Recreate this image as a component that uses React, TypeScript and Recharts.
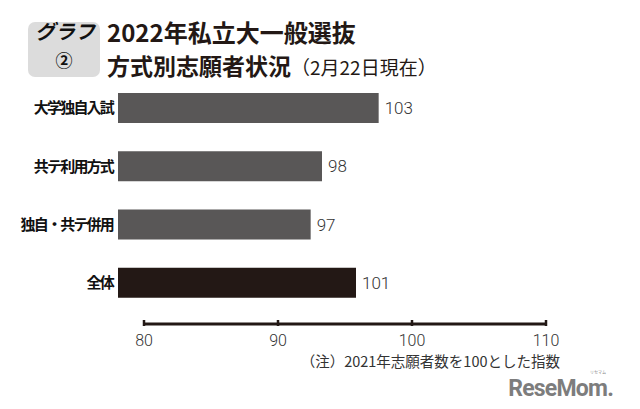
import React from 'react';
import { BarChart, Bar, XAxis, YAxis, Cell, LabelList } from 'recharts';

const categories = ['大学独自入試', '共テ利用方式', '独自・共テ併用', '全体'];
const values = [103, 98, 97, 101];
const xTicks = [80, 90, 100, 110];
const titleLine1 = '2022年私立大一般選抜';
const titleLine2 = '方式別志願者状況';
const titleDate = '（2月22日現在）';
const noteText = '（注）2021年志願者数を100とした指数';

const data = categories.map((name, i) => ({ name, value: values[i] }));

const CJK = '"Noto Sans CJK JP", "Noto Sans", sans-serif';
const NUM = 'Roboto, "Noto Sans", sans-serif';
const GRAY = '#595757';
const DARK = '#231815';

function makeAxisTick() {
  const state: { prev: number | null } = { prev: null };
  return (props: any) => {
    const { x, y, payload, index } = props;
    const lineY = y + 12;
    if (index === 0) state.prev = null;
    const seg =
      state.prev != null ? (
        <line x1={state.prev} x2={x} y1={lineY} y2={lineY} stroke={DARK} strokeWidth={3} />
      ) : null;
    state.prev = x;
    return (
      <g>
        {seg}
        <line x1={x} x2={x} y1={lineY - 4} y2={lineY + 2} stroke={DARK} strokeWidth={2.5} />
        <text x={x} y={y + 34} textAnchor="middle" fontFamily={NUM} fontWeight={300} fontSize={16} fill="#333">
          {payload.value}
        </text>
      </g>
    );
  };
}

export default function App() {
  const axisTick = makeAxisTick();
  return (
    <div style={{ position: 'absolute', left: 0, top: 0, width: 640, height: 409, background: '#fff' }}>
      <BarChart
        width={640}
        height={409}
        data={data}
        layout="vertical"
        margin={{ top: 79, right: 94, bottom: 0, left: 8 }}
      >
        <XAxis
          xAxisId="bar"
          type="number"
          orientation="top"
          domain={[80, 110]}
          allowDataOverflow
          hide
          padding={{ left: 0, right: 88 }}
        />
        <XAxis
          xAxisId="ticks"
          type="number"
          domain={[80, 110]}
          allowDataOverflow
          ticks={xTicks}
          interval={0}
          padding={{ left: 26, right: 0 }}
          axisLine={false}
          tickLine={false}
          tickSize={0}
          tickMargin={0}
          height={97}
          tick={axisTick}
        />
        <YAxis
          type="category"
          dataKey="name"
          width={110}
          axisLine={false}
          tickLine={false}
          tickSize={0}
          tickMargin={5}
          tick={{ fontFamily: CJK, fontWeight: 700, fontSize: 15, fill: '#111', letterSpacing: -1.8 }}
        />
        <Bar dataKey="value" xAxisId="bar" barSize={30} isAnimationActive={false}>
          {data.map((d) => (
            <Cell key={d.name} fill={d.name === '全体' ? DARK : GRAY} />
          ))}
          <LabelList
            dataKey="value"
            position="right"
            offset={6}
            fill="#333"
            fontFamily={NUM}
            fontWeight={300}
            fontSize={17}
          />
        </Bar>
      </BarChart>
      <svg
        width={640}
        height={409}
        style={{ position: 'absolute', left: 0, top: 0, pointerEvents: 'none' }}
      >
        <rect x={28} y={22} width={72} height={55} rx={7} fill="#dcdcdc" />
        <text x={65} y={39} textAnchor="middle" fontFamily={CJK} fontWeight={700} fontStyle="italic" fontSize={20} fill="#111">
          グラフ
        </text>
        <text x={64} y={67} textAnchor="middle" fontFamily={CJK} fontWeight={700} fontSize={17} fill="#111">
          ②
        </text>
        <text x={107} y={42} fontFamily={CJK} fontWeight={700} fontSize={24} fill={DARK}>
          {titleLine1}
        </text>
        <text x={107} y={75} fontFamily={CJK} fill={DARK}>
          <tspan fontWeight={700} fontSize={23}>{titleLine2}</tspan>
          <tspan fontWeight={400} fontSize={19}>{titleDate}</tspan>
        </text>
        <text x={560} y={367} textAnchor="end" fontFamily={CJK} fontSize={14.5} fill="#333">
          {noteText}
        </text>
        <text x={598} y={374} textAnchor="middle" fontFamily={CJK} fontSize={4} fill="#888">
          リセマム
        </text>
        <text x={613} y={396} textAnchor="end" fontFamily={NUM} fontWeight={700} fontSize={23} letterSpacing={-0.8} fill="#7d7d7d">
          ReseMom.
        </text>
      </svg>
    </div>
  );
}
